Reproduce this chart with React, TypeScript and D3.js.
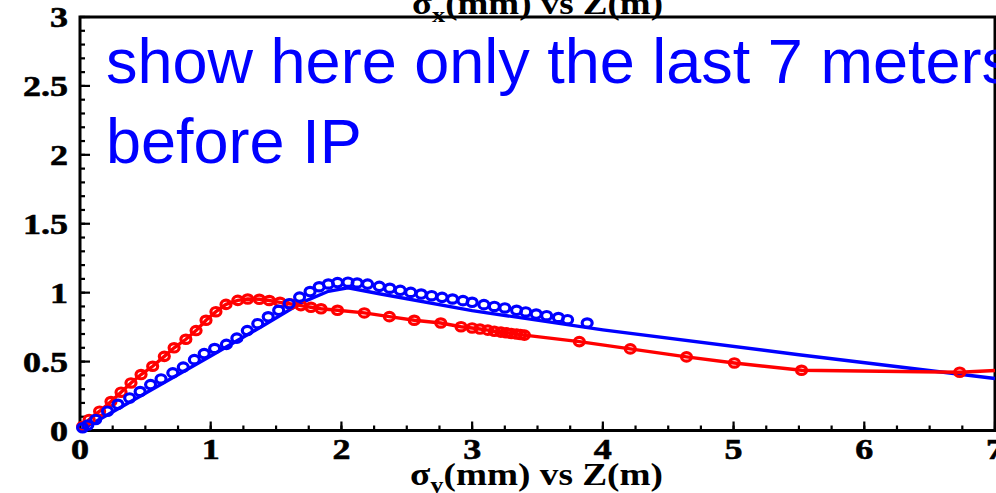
import React from 'react';
import * as d3 from 'd3';

// sigma_x points (blue) : [z (m), sigma (mm)]
const sigmaXPoints = [
  [0.02, 0.02], [0.06, 0.04], [0.12, 0.08], [0.21, 0.14], [0.29, 0.19],
  [0.38, 0.236], [0.46, 0.283], [0.54, 0.333], [0.62, 0.374], [0.71, 0.418],
  [0.79, 0.46], [0.875, 0.514], [0.95, 0.558], [1.03, 0.595], [1.12, 0.625],
  [1.2, 0.67], [1.28, 0.725], [1.36, 0.775], [1.44, 0.825], [1.52, 0.872],
  [1.6, 0.92], [1.68, 0.968], [1.76, 1.008], [1.83, 1.043], [1.9, 1.063],
  [1.97, 1.073], [2.05, 1.076], [2.12, 1.07], [2.2, 1.062], [2.29, 1.046],
  [2.37, 1.032], [2.45, 1.017], [2.53, 1.002], [2.61, 0.99], [2.69, 0.978],
  [2.77, 0.966], [2.85, 0.954], [2.93, 0.942], [3.0, 0.93], [3.09, 0.913],
  [3.17, 0.9], [3.25, 0.889], [3.34, 0.872], [3.41, 0.86], [3.49, 0.845],
  [3.57, 0.833], [3.66, 0.82], [3.73, 0.804], [3.88, 0.78],
];

// sigma_x fit line (blue)
const sigmaXLine = [
  [0, 0], [0.5, 0.27], [1.0, 0.54], [1.4, 0.76], [1.7, 0.93], [1.9, 1.01],
  [2.05, 1.035], [2.3, 0.99], [3.0, 0.87], [4.0, 0.73], [5.5, 0.55], [7.0, 0.377],
];

// sigma_y points (red)
const sigmaYPoints = [
  [0.02, 0.03], [0.07, 0.08], [0.15, 0.14], [0.237, 0.21], [0.314, 0.278],
  [0.39, 0.345], [0.467, 0.406], [0.556, 0.466], [0.645, 0.538], [0.72, 0.6],
  [0.81, 0.662], [0.888, 0.725], [0.964, 0.8], [1.04, 0.862], [1.117, 0.915],
  [1.207, 0.944], [1.283, 0.954], [1.372, 0.952], [1.448, 0.943], [1.53, 0.93],
  [1.614, 0.918], [1.69, 0.906], [1.767, 0.894], [1.844, 0.883], [1.97, 0.872],
  [2.175, 0.853], [2.367, 0.826], [2.557, 0.8], [2.76, 0.78], [2.915, 0.753],
  [3.0, 0.744], [3.06, 0.736], [3.12, 0.728], [3.17, 0.72], [3.22, 0.714],
  [3.26, 0.709], [3.3, 0.704], [3.34, 0.7], [3.37, 0.696], [3.4, 0.692],
  [3.82, 0.645], [4.21, 0.592], [4.64, 0.534], [5.006, 0.49], [5.52, 0.437],
  [6.73, 0.423],
];
const sigmaYEnd = [7.0, 0.435];

const xTicks = [0, 1, 2, 3, 4, 5, 6, 7];
const yTicks = [0, 0.5, 1, 1.5, 2, 2.5, 3];
const noteLines = ['show here only the last 7 meters', 'before IP'];

export default function App() {
  const width = 996;
  const height = 493;

  const x = d3.scaleLinear().domain([0, 7]).range([80, 995]);
  const y = d3.scaleLinear().domain([0, 3]).range([430.5, 17]);

  const line = d3
    .line()
    .x((d) => x(d[0]))
    .y((d) => y(d[1]));

  const xMinor = d3.range(0, 7.001, 0.25);
  const yMinor = d3.range(0, 3.001, 0.1);

  const serif = '"Liberation Serif", "Times New Roman", serif';
  const sans = '"Liberation Sans", Arial, sans-serif';

  return (
    <svg
      width={width}
      height={height}
      style={{ position: 'absolute', left: 0, top: 0, background: '#fff' }}
    >
      {/* minor + major ticks, pointing inward */}
      <g stroke="#000" strokeWidth={2.2}>
        {xMinor.map((t) => (
          <line key={'xm' + t} x1={x(t)} x2={x(t)} y1={y(0)} y2={y(0) - 5} />
        ))}
        {xTicks.map((t) => (
          <line key={'xM' + t} x1={x(t)} x2={x(t)} y1={y(0)} y2={y(0) - 9} />
        ))}
        {yMinor.map((t) => (
          <line key={'ym' + t} x1={x(0)} x2={x(0) + 5} y1={y(t)} y2={y(t)} />
        ))}
        {yTicks.map((t) => (
          <line key={'yM' + t} x1={x(0)} x2={x(0) + 10} y1={y(t)} y2={y(t)} />
        ))}
      </g>

      {/* frame */}
      <rect
        x={x(0)}
        y={y(3)}
        width={x(7) - x(0)}
        height={y(0) - y(3)}
        fill="none"
        stroke="#000"
        strokeWidth={3}
      />

      {/* tick labels */}
      <g fontFamily={serif} fontWeight="bold" fontSize={30} fill="#000" stroke="#000" strokeWidth={0.6}>
        {xTicks.map((t) => (
          <text
            key={'xl' + t}
            transform={`translate(${x(t)},${459}) scale(1.2,1)`}
            textAnchor="middle"
          >
            {t}
          </text>
        ))}
        {yTicks.map((t) => (
          <text
            key={'yl' + t}
            transform={`translate(68,${y(t) + 10}) scale(1.2,1)`}
            textAnchor="end"
          >
            {t}
          </text>
        ))}
      </g>

      {/* axis titles */}
      <text
        x={412}
        y={14}
        fontFamily={serif}
        fontWeight="bold"
        fontSize={31}
        textLength={251}
        lengthAdjust="spacingAndGlyphs"
      >
        σ<tspan fontSize={22} dy={8}>x</tspan>
        <tspan dy={-8}>(mm) vs Z(m)</tspan>
      </text>
      <text
        x={410}
        y={485}
        fontFamily={serif}
        fontWeight="bold"
        fontSize={31}
        textLength={253}
        lengthAdjust="spacingAndGlyphs"
      >
        σ<tspan fontSize={22} dy={7}>y</tspan>
        <tspan dy={-7}>(mm) vs Z(m)</tspan>
      </text>

      {/* lines */}
      <path d={line(sigmaXLine)} fill="none" stroke="#0000ff" strokeWidth={3.4} />
      <path
        d={line([...sigmaYPoints, sigmaYEnd])}
        fill="none"
        stroke="#ff0000"
        strokeWidth={3.4}
      />

      {/* markers */}
      <g fill="none" stroke="#ff0000" strokeWidth={3.2}>
        {sigmaYPoints.map((d, i) => (
          <ellipse key={'r' + i} cx={x(d[0])} cy={y(d[1])} rx={5} ry={4.2} />
        ))}
      </g>
      <g fill="none" stroke="#0000ff" strokeWidth={3.2}>
        {sigmaXPoints.map((d, i) => (
          <ellipse key={'b' + i} cx={x(d[0])} cy={y(d[1])} rx={5} ry={4.2} />
        ))}
      </g>

      {/* note */}
      <g fontFamily={sans} fontSize={63} fill="#0000ff">
        {noteLines.map((s, i) => (
          <text key={s} x={106} y={83 + i * 80}>
            {s}
          </text>
        ))}
      </g>
    </svg>
  );
}
